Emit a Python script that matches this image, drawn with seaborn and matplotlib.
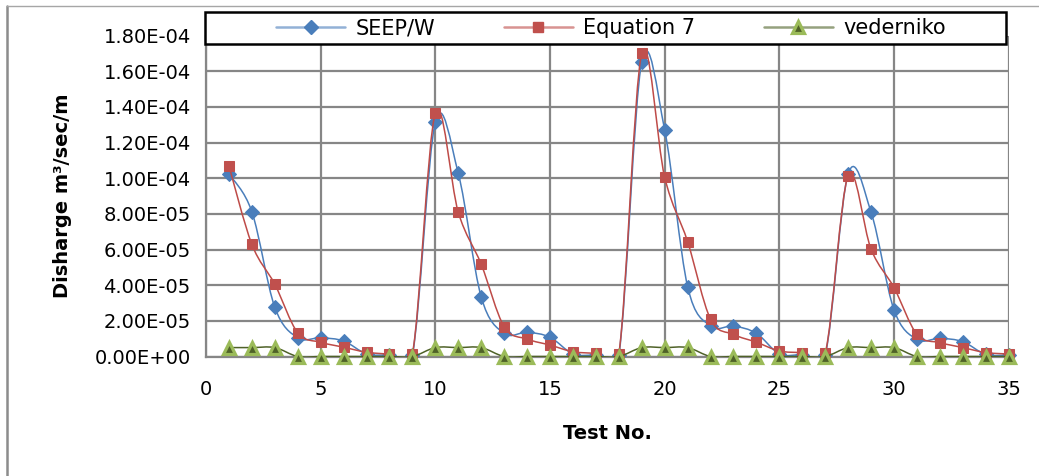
import numpy as np
import pandas as pd
import matplotlib
matplotlib.use("Agg")
import matplotlib.pyplot as plt
import seaborn as sns
from matplotlib.path import Path
from matplotlib.patches import PathPatch, Rectangle
from matplotlib.lines import Line2D
from matplotlib.colors import to_rgba
from matplotlib.ticker import FuncFormatter

# ---------------- data ----------------
test_no = list(range(1, 36))
seep_w = [10.24, 8.12, 2.76, 1.05, 1.05, 0.87, 0.15, 0.08, 0.08,
          13.15, 10.27, 3.34, 1.30, 1.36, 1.08, 0.15, 0.08, 0.08,
          16.53, 12.70, 3.92, 1.71, 1.71, 1.30, 0.15, 0.10, 0.08,
          10.24, 8.09, 2.61, 0.96, 1.02, 0.83, 0.12, 0.08]
equation_7 = [10.69, 6.29, 4.05, 1.33, 0.80, 0.52, 0.24, 0.14, 0.14,
              13.66, 8.09, 5.17, 1.67, 0.98, 0.64, 0.27, 0.18, 0.14,
              17.00, 10.05, 6.44, 2.09, 1.24, 0.80, 0.31, 0.22, 0.18,
              10.14, 6.01, 3.86, 1.24, 0.78, 0.50, 0.22, 0.14]
vederniko = [0.5, 0.5, 0.5, 0, 0, 0, 0, 0, 0,
             0.5, 0.5, 0.5, 0, 0, 0, 0, 0, 0,
             0.5, 0.5, 0.5, 0, 0, 0, 0, 0, 0,
             0.5, 0.5, 0.5, 0, 0, 0, 0, 0]
scale = 1e-5
series_names = ["SEEP/W", "Equation 7", "vederniko"]
x_ticks = [0, 5, 10, 15, 20, 25, 30, 35]
y_ticks = [0, 2e-5, 4e-5, 6e-5, 8e-5, 10e-5, 12e-5, 14e-5, 16e-5, 18e-5]

df = pd.DataFrame({
    "Test No.": test_no * 3,
    "value": [v * scale for v in seep_w + equation_7 + vederniko],
    "series": sum([[n] * len(test_no) for n in series_names], []),
})

# ---------------- style ----------------
sns.set_theme(style="white")
plt.rcParams["font.family"] = ["DejaVu Sans"]
plt.rcParams["text.color"] = "black"
plt.rcParams["axes.labelcolor"] = "black"

W, H = 1039, 476
fig = plt.figure(figsize=(W / 100, H / 100), dpi=100)
ax = fig.add_axes([206 / W, 1 - 356.5 / H, (1008.7 - 206) / W, (356.5 - 35.5) / H])

colors = {"SEEP/W": "#4A7EBB", "Equation 7": "#BE4B48", "vederniko": "#4F6228"}
marker_style = {
    "SEEP/W": dict(marker="D", markersize=6.8, markerfacecolor="#4A7EBB", markeredgecolor="#4A7EBB"),
    "Equation 7": dict(marker="s", markersize=7.8, markerfacecolor="#C0504D", markeredgecolor="#C0504D"),
    "vederniko": dict(marker="^", markersize=8, markerfacecolor="#4F6228", markeredgecolor="#9BBB59",
                      markeredgewidth=2.3),
}


def smooth_path(xs, ys):
    """Excel-like smoothed line: cubic Bezier through the data points."""
    xs = np.asarray(xs, float)
    ys = np.asarray(ys, float)
    n = len(xs)
    verts = [(xs[0], ys[0])]
    codes = [Path.MOVETO]
    for i in range(n - 1):
        i0 = max(i - 1, 0)
        i3 = min(i + 2, n - 1)
        c1 = (xs[i] + (xs[i + 1] - xs[i0]) / 6, ys[i] + (ys[i + 1] - ys[i0]) / 6)
        c2 = (xs[i + 1] - (xs[i3] - xs[i]) / 6, ys[i + 1] - (ys[i3] - ys[i]) / 6)
        verts += [c1, c2, (xs[i + 1], ys[i + 1])]
        codes += [Path.CURVE4] * 3
    return Path(verts, codes)


for k, name in enumerate(series_names):
    sub = df[df["series"] == name]
    patch = PathPatch(smooth_path(sub["Test No."], sub["value"]), facecolor="none",
                      edgecolor=colors[name], lw=1.1, zorder=3 + 2 * k)
    ax.add_patch(patch)
    sns.lineplot(data=sub, x="Test No.", y="value", ax=ax, linestyle="none",
                 color=colors[name], zorder=4 + 2 * k, legend=False, clip_on=False,
                 **marker_style[name])

ax.set_xlim(0, 35)
ax.set_ylim(0, 1.8e-4)
ax.set_xticks(x_ticks)
ax.set_yticks(y_ticks)
ax.yaxis.set_major_formatter(FuncFormatter(lambda v, p: f"{v:.2E}"))

grid_c = "#868686"
ax.grid(True, color=grid_c, lw=1.6)
ax.set_axisbelow(True)
for s in ["top", "right"]:
    ax.spines[s].set_visible(False)
for s in ["left", "bottom"]:
    ax.spines[s].set_color(grid_c)
    ax.spines[s].set_linewidth(1.6)
ax.tick_params(axis="both", which="major", direction="out", length=5, width=1.2,
               color=grid_c, labelsize=14, labelcolor="black", pad=6)
ax.tick_params(axis="x", pad=12)

ax.set_xlabel("Test No.", fontsize=14, fontweight="bold", labelpad=18, color="black")
ax.set_ylabel("Disharge m³/sec/m", fontsize=14, fontweight="bold", labelpad=16, color="black")

# legend box
fig.add_artist(Rectangle((205 / W, 1 - 44 / H), (1006 - 205) / W, 32 / H,
                         transform=fig.transFigure, facecolor="white",
                         edgecolor="black", lw=1.8, zorder=19))
handles = []
for name in series_names:
    handles.append(Line2D([0], [0], color=to_rgba(colors[name], 0.6), lw=1.8,
                          **marker_style[name]))
leg = fig.legend(handles, series_names, loc="center", ncol=3,
                 bbox_to_anchor=(611 / W, 1 - 28 / H),
                 bbox_transform=fig.transFigure, frameon=False,
                 fontsize=15, handlelength=3.3, borderaxespad=0, borderpad=0,
                 handletextpad=0.5, columnspacing=3.3)
leg.set_zorder(20)

# outer chart border (left and top edges visible)
fig.add_artist(Line2D([7 / W, 7 / W], [0, 1 - 6 / H], transform=fig.transFigure,
                      color="#8C8C8C", lw=1.8))
fig.add_artist(Line2D([7 / W, 1], [1 - 6 / H, 1 - 6 / H], transform=fig.transFigure,
                      color="#A6A6A6", lw=1.0))

fig.savefig("out.png", dpi=100)
